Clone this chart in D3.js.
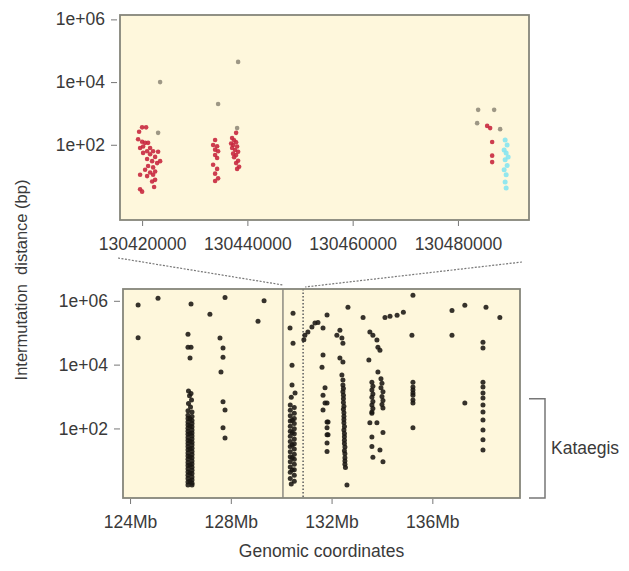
<!DOCTYPE html>
<html><head><meta charset="utf-8">
<script src="https://cdn.jsdelivr.net/npm/d3@7/dist/d3.min.js"></script>
<style>
html,body{margin:0;padding:0;background:#fff;}
svg text{font-family:"Liberation Sans",Arial,sans-serif;fill:#3a3a3a;}
</style></head>
<body>
<svg id="c" width="629" height="571"></svg>
<script>
// ---------- DATA ----------
// Top (zoomed) panel: [genomic position (bp), intermutation distance (bp)]
const topTicks = [130420000, 130440000, 130460000, 130480000];
const yTickVals = [1e2, 1e4, 1e6];
const topRed = [
  [130419430,260],[130420000,360],[130420760,360],[130419240,150],[130420000,125],[130420570,115],
  [130421140,115],[130420190,88],[130419620,79],[130421520,79],[130420950,62],[130422090,62],
  [130420190,55],[130421520,50],[130422470,41],[130420950,35],[130421900,30],[130422850,26],
  [130421140,21],[130422090,19],[130420570,16],[130422470,14],[130421520,13],[130419620,11],
  [130422090,11],[130420950,10],[130422470,7.6],[130421900,6.7],[130419620,3.8],[130420000,3.2],
  [130422280,4.5],[130423040,60],[130423420,30],
  [130433870,142],[130433490,98],[130434250,90],[130433870,70],[130434440,62],[130433870,47],
  [130434250,38],[130433490,23],[130434250,17],[130433870,12],[130434440,8.5],[130433870,7],
  [130437860,240],[130437100,165],[130437480,140],[130437860,120],[130436910,110],[130437290,98],
  [130438050,88],[130437100,79],[130437670,68],[130438240,60],[130437290,52],[130437860,47],
  [130437480,40],[130438240,31],[130437860,26],[130438430,20],[130438050,17],
  [130485550,400],[130486120,340],[130486500,123],[130486500,45],[130486500,28]
];
const topGrey = [
  [130423420,10000],[130434440,2000],[130438240,44000],[130438050,340],[130423040,240],
  [130483840,1300],[130486880,1300],[130483650,490],[130488020,315]
];
const topCyan = [
  [130488970,142],[130489350,98],[130488780,68],[130489160,55],[130489540,41],[130488970,33],
  [130489350,22],[130488780,16],[130489160,11],[130488970,6.5],[130489160,4.2]
];

// Bottom (whole region) panel: [position (Mb), intermutation distance (bp)]
const bottomTicks = [124, 128, 132, 136];
const bottomTickLabels = ["124Mb", "128Mb", "132Mb", "136Mb"];
const regionLines = [130.07, 130.87];
const kataegisMax = 850;
const bottomPts = [
  // scattered, left side
  [124.32,7.4e5],[125.11,1.2e6],[124.32,7e4],[126.42,8e5],[127.77,1.27e6],[127.17,3.8e5],[129.32,1e6],[129.08,2.3e5],
  [126.30,9e4],[126.30,3.5e4],[126.42,3.5e4],[126.38,1.6e4],
  [127.57,6.8e4],[127.69,3.3e4],[127.69,1.7e4],[127.61,5.9e3],[127.69,690],[127.77,380],[127.69,105],[127.77,50],
  // dense column ~126.4 Mb
  [126.32,1500],[126.42,1250],[126.36,1050],[126.44,780],[126.32,600],[126.40,470],[126.30,360],[126.46,330],
  [126.30,260],[126.46,235],[126.30,205],[126.46,178],[126.30,160],[126.46,142],[126.30,128],[126.46,112],
  [126.30,101],[126.46,90],[126.30,82],[126.46,72],[126.30,66],[126.46,58],[126.30,52],[126.46,47],
  [126.30,42],[126.46,37],[126.30,33.5],[126.46,30],[126.30,27],[126.46,24],[126.30,21.5],[126.46,19],
  [126.30,17],[126.46,15.2],[126.30,13.6],[126.46,12.1],[126.30,10.8],[126.46,9.6],[126.30,8.6],[126.46,7.7],
  [126.30,6.9],[126.46,6.1],[126.30,5.5],[126.46,4.9],[126.30,4.3],[126.46,3.9],[126.30,3.4],[126.46,3.0],
  [126.30,2.7],[126.46,2.4],[126.30,2.1],[126.46,1.9],[126.30,1.7],[126.46,1.7],
  [126.38,200],[126.38,120],[126.38,70],[126.38,40],[126.38,23],[126.38,13],[126.38,7.2],[126.38,4],[126.38,2.2],
  // column ~130.4 Mb (zoomed region)
  [130.47,4.1e5],[130.35,1.4e5],[130.47,4.7e4],[130.43,9.5e3],[130.43,2.3e3],[130.55,1.3e3],[130.40,950],
  [130.36,540],[130.52,450],[130.36,370],[130.52,300],[130.36,250],[130.52,205],[130.36,170],[130.52,142],
  [130.36,118],[130.52,98],[130.36,82],[130.52,68],[130.36,57],[130.52,47],[130.36,39],[130.52,33],
  [130.36,27],[130.52,22.5],[130.36,18.5],[130.52,15.5],[130.36,13],[130.52,10.8],[130.36,9],[130.52,7.5],
  [130.36,6.2],[130.52,5.1],[130.36,4.2],[130.52,3.4],[130.36,2.7],[130.52,2.2],[130.40,1.8],
  [130.44,180],[130.44,75],[130.44,30],[130.44,12],[130.44,5],
  // streak and column ~131.7 Mb
  [130.90,6e4],[130.94,8.3e4],[131.06,1.05e5],[131.22,1.5e5],[131.34,2e5],[131.46,2.1e5],[131.66,1.4e5],[131.82,3.6e5],
  [131.66,2e4],[131.62,8.3e3],[131.74,1.9e3],[131.66,1.1e3],[131.74,630],[131.82,630],[131.66,380],
  [131.82,160],[131.86,160],[131.82,105],[131.82,63],[131.86,63],[131.82,35],[131.82,19],
  // column ~132.5 Mb
  [132.65,6.3e5],[132.33,1.2e5],[132.21,8.3e4],[132.41,6.8e4],[132.45,4.7e4],[132.33,1.6e4],[132.45,1.2e4],
  [132.41,4.7e3],[132.45,3.3e3],
  [132.45,2300],[132.47,1800],[132.45,1400],[132.47,1100],[132.47,850],[132.47,650],[132.49,500],[132.47,400],
  [132.49,310],[132.49,240],[132.49,190],[132.49,150],[132.51,115],[132.49,90],[132.51,70],[132.51,55],
  [132.51,43],[132.51,34],[132.53,26],[132.51,20],[132.53,16],[132.53,12],[132.53,9.5],[132.53,7.5],
  [132.55,6],[132.61,1.7],
  // column ~133.8 Mb
  [133.25,3e5],[134.12,3e5],[134.32,3.3e5],[134.60,3.5e5],[134.85,4.4e5],
  [133.52,1.05e5],[133.64,8.3e4],[133.80,5.9e4],[133.84,3.5e4],[133.92,2.8e4],[133.48,1.4e4],[133.84,5.9e3],
  [133.60,2800],[133.64,2100],[133.60,1600],[133.64,1200],[133.60,950],[133.64,700],[133.60,540],[133.64,420],[133.60,330],
  [133.96,3600],[134.00,2600],[133.96,1900],[134.04,1400],[134.00,1000],[134.04,750],[134.00,560],[134.04,440],
  [133.60,300],[133.52,150],[133.80,150],[133.60,54],[134.04,75],[133.60,27],[133.92,21],[133.64,12.5],[134.04,9],
  // column ~135.2 Mb
  [135.23,1.48e6],[135.19,8.3e4],[135.23,2800],[135.23,2000],[135.23,1600],[135.23,1300],[135.23,1100],[135.23,780],[135.23,630],[135.23,105],
  // right side
  [136.78,5e5],[137.29,7.2e5],[138.13,6.3e5],[138.68,3e5],[136.78,8.3e4],[138.01,5e4],[138.01,3.3e4],[137.29,630],
  [138.01,2800],[138.01,2000],[138.01,1300],[138.01,900],[138.01,540],[138.01,330],[138.01,185],[138.01,90],[138.01,44],[138.01,21]
];

// ---------- LAYOUT ----------
const svg = d3.select("#c");
const panelFill = "#fef7dc", frameCol = "#85857a";

const xTop = d3.scaleLinear().domain([130415800, 130493500]).range([120, 529]);
const yTop = d3.scaleLog().domain([Math.pow(10,-0.4), Math.pow(10,6.14)]).range([220, 15]);
const xBot = d3.scaleLinear().domain([123.72, 139.48]).range([123, 520]);
const yBot = d3.scaleLog().domain([Math.pow(10,-0.18), Math.pow(10,6.37)]).range([498, 289]);

function yFmt(v){ return "1e+" + String(Math.round(Math.log10(v))).padStart(2,"0"); }

function panel(x, y){
  const [x0,x1] = x.range(), [y1,y0] = y.range();
  svg.append("rect").attr("x",x0).attr("y",y0).attr("width",x1-x0).attr("height",y1-y0)
    .attr("fill",panelFill).attr("stroke","none");
  return {x0,x1,y0,y1};
}
function frame(p){
  svg.append("rect").attr("x",p.x0).attr("y",p.y0).attr("width",p.x1-p.x0).attr("height",p.y1-p.y0)
    .attr("fill","none").attr("stroke",frameCol).attr("stroke-width",1.8);
}
function axes(p, x, y, xticks, xfmt, xpad){
  const gy = svg.append("g").attr("transform",`translate(${p.x0-3},0)`)
    .call(d3.axisLeft(y).tickValues(yTickVals).tickFormat(yFmt).tickSize(6).tickPadding(6));
  const gx = svg.append("g").attr("transform",`translate(0,${p.y1+1})`)
    .call(d3.axisBottom(x).tickValues(xticks).tickFormat(xfmt).tickSize(5).tickPadding(xpad));
  [gx,gy].forEach(g=>{
    g.select(".domain").remove();
    g.selectAll(".tick line").attr("stroke","#777");
    g.selectAll(".tick text").attr("font-size",17.5).attr("fill","#3a3a3a")
      .attr("font-family","'Liberation Sans',Arial,sans-serif");
  });
}

// top panel
const pT = panel(xTop, yTop);
const gTop = svg.append("g");
gTop.selectAll("circle.g").data(topGrey).join("circle").attr("class","g")
  .attr("cx",d=>xTop(d[0])).attr("cy",d=>yTop(d[1])).attr("r",2.3).attr("fill","#8c8676").attr("opacity",0.85);
gTop.selectAll("circle.c").data(topCyan).join("circle").attr("class","c")
  .attr("cx",d=>xTop(d[0])).attr("cy",d=>yTop(d[1])).attr("r",2.5).attr("fill","#86e4ef").attr("opacity",0.9);
gTop.selectAll("circle.r").data(topRed).join("circle").attr("class","r")
  .attr("cx",d=>xTop(d[0])).attr("cy",d=>yTop(d[1])).attr("r",2.3).attr("fill","#c8283f").attr("opacity",0.9);
frame(pT);
axes(pT, xTop, yTop, topTicks, d3.format("d"), 12);

// bottom panel
const pB = panel(xBot, yBot);
svg.append("line").attr("x1",xBot(regionLines[0])).attr("x2",xBot(regionLines[0]))
  .attr("y1",pB.y0).attr("y2",pB.y1).attr("stroke","#555").attr("stroke-width",1);
svg.append("line").attr("x1",xBot(regionLines[1])).attr("x2",xBot(regionLines[1]))
  .attr("y1",pB.y0).attr("y2",pB.y1).attr("stroke","#666").attr("stroke-width",1.6).attr("stroke-dasharray","1.5,2");
svg.append("g").selectAll("circle").data(bottomPts).join("circle")
  .attr("cx",d=>xBot(d[0])).attr("cy",d=>yBot(d[1])).attr("r",2.5).attr("fill","#1a1712").attr("opacity",0.88);
frame(pB);
axes(pB, xBot, yBot, bottomTicks, (d,i)=>bottomTickLabels[i], 12);

// zoom connectors
svg.append("line").attr("x1",pT.x0-2).attr("y1",pT.y1+38).attr("x2",xBot(regionLines[0])).attr("y2",pB.y0-4)
  .attr("stroke","#777").attr("stroke-width",1.2).attr("stroke-dasharray","2,1.5");
svg.append("line").attr("x1",pT.x1-7).attr("y1",pT.y1+42).attr("x2",xBot(regionLines[1])+2).attr("y2",pB.y0-2)
  .attr("stroke","#777").attr("stroke-width",1.2).attr("stroke-dasharray","2,1.5");

// kataegis bracket
const by0 = yBot(kataegisMax), by1 = pB.y1;
svg.append("path").attr("d",`M${pB.x1+9},${by0}H${pB.x1+25}V${by1}H${pB.x1+9}`)
  .attr("fill","none").attr("stroke","#777").attr("stroke-width",1.5);
svg.append("text").attr("x",pB.x1+31).attr("y",(by0+by1)/2+6).attr("font-size",17.5).text("Kataegis");

// titles
svg.append("text").attr("x",(pB.x0+pB.x1)/2).attr("y",557).attr("text-anchor","middle")
  .attr("font-size",17.5).text("Genomic coordinates");
svg.append("text").attr("transform","translate(27,280) rotate(-90)").attr("text-anchor","middle")
  .attr("font-size",16.5).style("white-space","pre").text("Intermutation  distance (bp)");
</script>
</body></html>
